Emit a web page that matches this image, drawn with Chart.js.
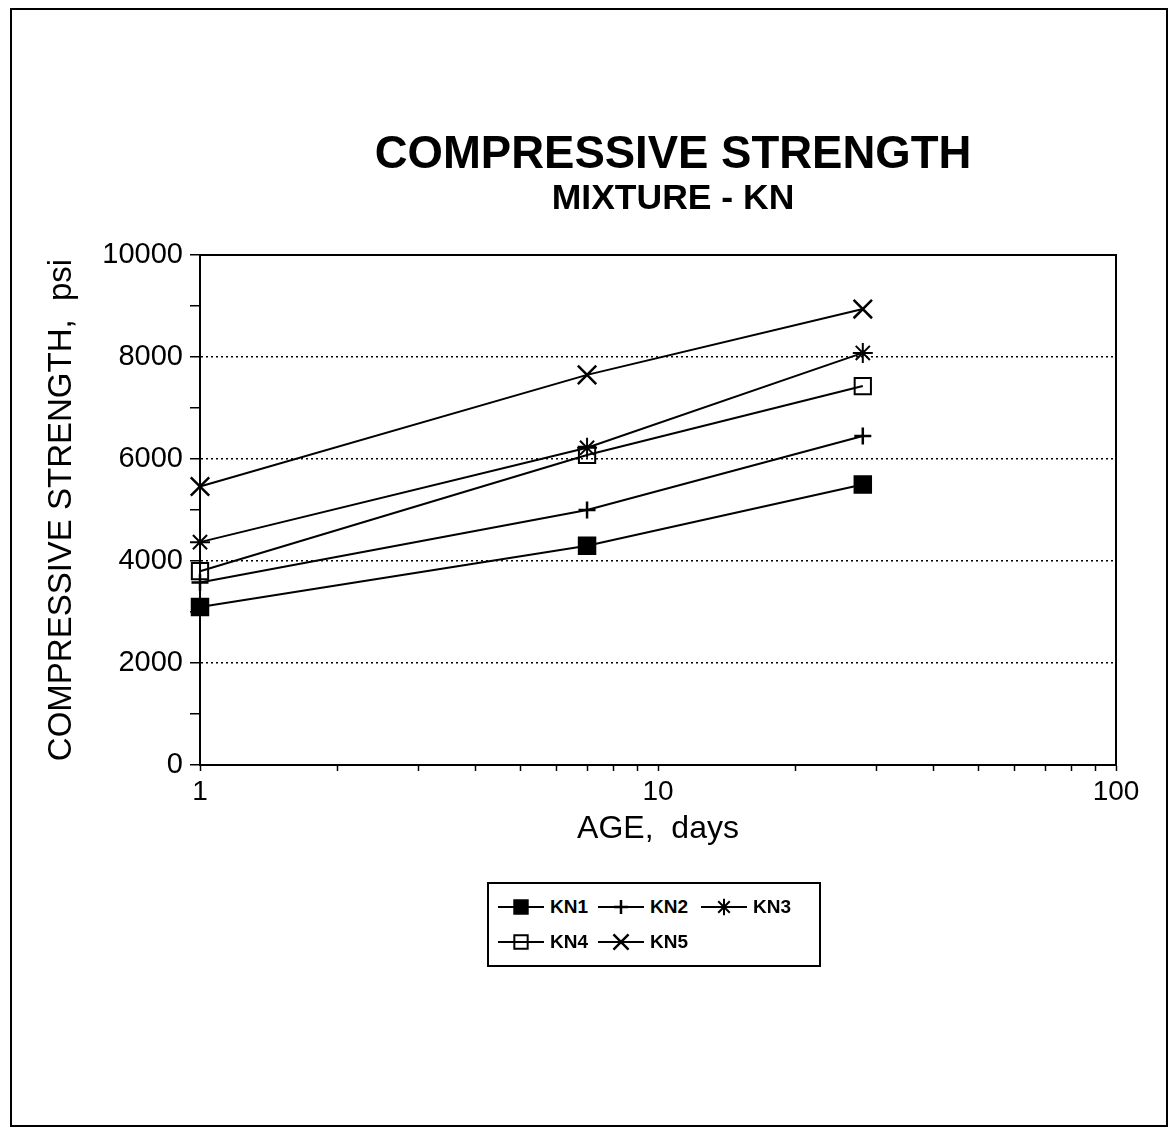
<!DOCTYPE html>
<html>
<head>
<meta charset="utf-8">
<script src="https://cdn.jsdelivr.net/npm/chart.js@4.4.1/dist/chart.umd.min.js"></script>
<style>
  html, body { margin: 0; padding: 0; background: #fff; }
  #wrap { position: relative; width: 1176px; height: 1131px; overflow: hidden; }
  #c { position: absolute; left: 0; top: 0; }
  #frame { position: absolute; left: 10px; top: 8px; width: 1158px; height: 1119px;
           box-sizing: border-box; border: 2px solid #000; pointer-events: none; }
  #legend { position: absolute; left: 487px; top: 882px; width: 334px; height: 85px;
            box-sizing: border-box; border: 2px solid #000; background: #fff;
            display: grid; grid-template-columns: 100px 103px 110px; grid-auto-rows: 35px;
            padding: 5px 0 0 9px; font-family: "Liberation Sans", Arial, sans-serif;
            font-weight: bold; font-size: 19px; color: #000; }
  #legend .item { display: flex; align-items: center; }
  #legend canvas { display: block; margin-right: 6px; }
</style>
</head>
<body>
<div id="wrap">
  <canvas id="c" width="1176" height="1131"></canvas>
  <div id="frame"></div>
  <div id="legend"></div>
</div>
<script>
// ---- data ----
const ages = [1, 7, 28];
const seriesNames = ['KN1', 'KN2', 'KN3', 'KN4', 'KN5'];
const kn1 = [3100, 4300, 5500];
const kn2 = [3580, 5000, 6450];
const kn3 = [4370, 6220, 8080];
const kn4 = [3800, 6080, 7430];
const kn5 = [5460, 7650, 8940];
const xTickValues = [1,2,3,4,5,6,7,8,9,10,20,30,40,50,60,70,80,90,100];
const xTickLabels = ['1', '10', '100'];
const yTickLabels = ['0', '2000', '4000', '6000', '8000', '10000'];
const yGridValues = [2000, 4000, 6000, 8000];

const FONT = '"Liberation Sans", Arial, Helvetica, sans-serif';

function pts(vals) { return vals.map((v, i) => ({ x: ages[i], y: v })); }

const styles = [
  { pointStyle: 'rect',     pointRadius: 12,  pointBackgroundColor: '#000', pointBorderWidth: 1.5 },
  { pointStyle: 'cross',    pointRadius: 8.5, pointBackgroundColor: '#000', pointBorderWidth: 2.5 },
  { pointStyle: 'star',     pointRadius: 10, pointBackgroundColor: '#000', pointBorderWidth: 2 },
  { pointStyle: 'rect',     pointRadius: 11.5, pointBackgroundColor: 'rgba(0,0,0,0)', pointBorderWidth: 2 },
  { pointStyle: 'crossRot', pointRadius: 13,  pointBackgroundColor: '#000', pointBorderWidth: 2.5 }
];
const values = [kn1, kn2, kn3, kn4, kn5];

const datasets = seriesNames.map((name, i) => Object.assign({
  label: name,
  data: pts(values[i]),
  borderColor: '#000',
  borderWidth: 2,
  pointBorderColor: '#000',
  pointHoverRadius: styles[i].pointRadius,
  tension: 0,
  fill: false,
  clip: false
}, styles[i]));

const frameLines = {
  id: 'frameLines',
  afterDatasetsDraw(chart) {
    const { ctx, chartArea: a } = chart;
    ctx.save();
    ctx.strokeStyle = '#000';
    ctx.lineWidth = 2;
    ctx.beginPath();
    ctx.moveTo(a.left, a.top);
    ctx.lineTo(a.right, a.top);
    ctx.lineTo(a.right, a.bottom);
    ctx.stroke();
    ctx.restore();
  }
};

const shiftTitles = {
  id: 'shiftTitles',
  afterLayout(chart) {
    chart.boxes.forEach(b => {
      if (b.options && typeof b.options.text === 'string' && (b.options.text === chart.options.plugins.title.text || b.options.text === chart.options.plugins.subtitle.text)) {
        b.left += 15; b.right += 15;
      }
    });
  }
};

const chart = new Chart(document.getElementById('c'), {
  type: 'line',
  data: { datasets },
  plugins: [frameLines, shiftTitles],
  options: {
    responsive: false,
    animation: false,
    devicePixelRatio: 1,
    layout: { padding: { left: 30, right: 60, top: 0, bottom: 276 } },
    plugins: {
      legend: { display: false },
      tooltip: { enabled: false },
      title: {
        display: true, fullSize: false,
        text: 'COMPRESSIVE STRENGTH',
        color: '#000',
        font: { family: FONT, size: 45.5, weight: 'bold', lineHeight: 1 },
        padding: { top: 133, bottom: 3 }
      },
      subtitle: {
        display: true, fullSize: false,
        text: 'MIXTURE - KN',
        color: '#000',
        font: { family: FONT, size: 35.5, weight: 'bold', lineHeight: 1 },
        padding: { top: 0, bottom: 38 }
      }
    },
    scales: {
      x: {
        type: 'logarithmic',
        min: 1, max: 100,
        afterBuildTicks(scale) { scale.ticks = xTickValues.map(v => ({ value: v })); },
        afterFit(scale) { scale.height = 90; },
        ticks: {
          autoSkip: false, maxRotation: 0, color: '#000', padding: 4,
          font: { family: FONT, size: 28 },
          callback(v) { const s = String(v); return xTickLabels.includes(s) ? s : ''; }
        },
        grid: { drawOnChartArea: false, drawTicks: true, tickLength: 6, tickColor: '#000', tickWidth: 1.5 },
        border: { display: true, color: '#000', width: 2 },
        title: {
          display: true, text: 'AGE,  days', color: '#000',
          font: { family: FONT, size: 32 }, padding: { top: 0, bottom: 7 }
        }
      },
      y: {
        type: 'linear',
        min: 0, max: 10000,
        afterFit(scale) { scale.width = 170; },
        ticks: {
          stepSize: 1000, autoSkip: false, color: '#000', padding: 7,
          font: { family: FONT, size: 29 },
          callback(v) { const s = String(v); return yTickLabels.includes(s) ? s : ''; }
        },
        grid: {
          color(ctx) { return ctx.tick && yGridValues.includes(ctx.tick.value) ? '#000' : 'rgba(0,0,0,0)'; },
          lineWidth: 1.5,
          drawTicks: true, tickLength: 10, tickColor: '#000', tickWidth: 1.5, tickBorderDash: []
        },
        border: { display: true, color: '#000', width: 2, dash: [2, 3] },
        title: {
          display: true, text: 'COMPRESSIVE STRENGTH,  psi', color: '#000',
          font: { family: FONT, size: 33 }, padding: { top: 12, bottom: 0 }
        }
      }
    }
  }
});

// HTML legend built from the chart's datasets
const legendEl = document.getElementById('legend');
chart.data.datasets.forEach(ds => {
  const item = document.createElement('div');
  item.className = 'item';
  const c = document.createElement('canvas');
  c.width = 46; c.height = 24;
  const g = c.getContext('2d');
  g.strokeStyle = '#000';
  g.lineWidth = 2;
  g.beginPath(); g.moveTo(0, 12); g.lineTo(46, 12); g.stroke();
  g.fillStyle = ds.pointBackgroundColor;
  g.lineWidth = ds.pointBorderWidth;
  Chart.helpers.drawPoint(g, { pointStyle: ds.pointStyle, radius: ds.pointRadius * 0.82, borderWidth: ds.pointBorderWidth, rotation: 0 }, 23, 12);
  const t = document.createElement('span');
  t.textContent = ds.label;
  item.appendChild(c);
  item.appendChild(t);
  legendEl.appendChild(item);
});
</script>
</body>
</html>
